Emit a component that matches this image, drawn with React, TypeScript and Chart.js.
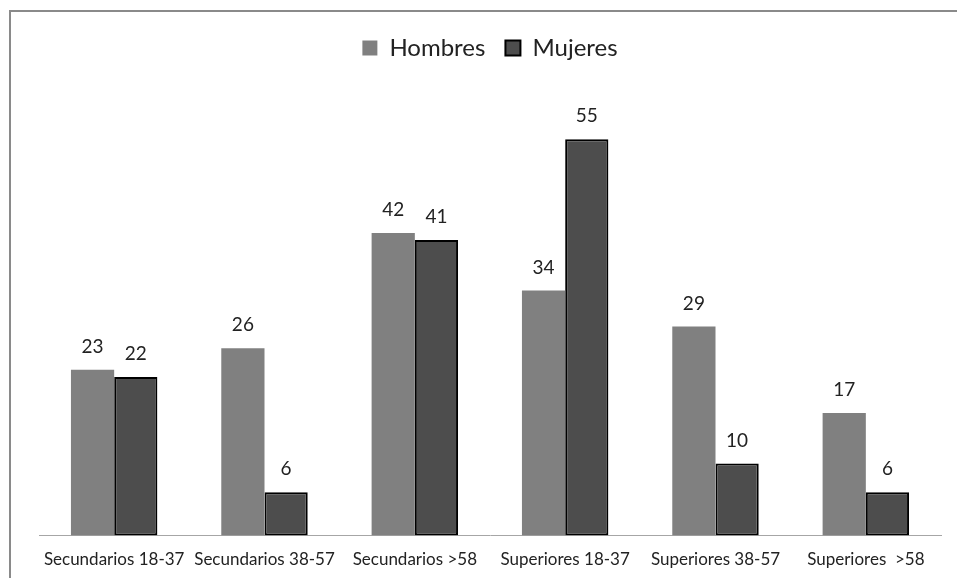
import React, { useEffect, useRef } from "react";
import { Chart, registerables } from "chart.js";

Chart.register(...registerables);

const categories = [
  "Secundarios 18-37",
  "Secundarios 38-57",
  "Secundarios >58",
  "Superiores 18-37",
  "Superiores 38-57",
  "Superiores  >58",
];
const hombres = [23, 26, 42, 34, 29, 17];
const mujeres = [22, 6, 41, 55, 10, 6];
const seriesNames = ["Hombres", "Mujeres"];

const FONT = "Lato, 'Open Sans', sans-serif";

const valueLabels = {
  id: "valueLabels",
  afterDatasetsDraw(chart: any) {
    const ctx = chart.ctx;
    ctx.save();
    ctx.font = `19px ${FONT}`;
    ctx.fillStyle = "#222";
    ctx.textAlign = "center";
    ctx.textBaseline = "alphabetic";
    chart.data.datasets.forEach((ds: any, di: number) => {
      const meta = chart.getDatasetMeta(di);
      meta.data.forEach((el: any, i: number) => {
        ctx.fillText(String(ds.data[i]), el.x, el.y - 17);
      });
    });
    ctx.restore();
  },
};

export default function App() {
  const ref = useRef<HTMLCanvasElement>(null);
  useEffect(() => {
    document.body.style.margin = "0";
    let chart: Chart | null = null;
    let cancelled = false;
    const make = () => {
      if (cancelled || !ref.current) return;
      chart = new Chart(ref.current, {
        type: "bar",
        data: {
          labels: categories,
          datasets: [
            {
              label: seriesNames[0],
              data: hombres,
              backgroundColor: "#808080",
              borderColor: "#808080",
              borderWidth: 0,
              borderSkipped: false,
            },
            {
              label: seriesNames[1],
              data: mujeres,
              backgroundColor: "#4d4d4d",
              borderColor: "#000000",
              borderWidth: 2,
              borderSkipped: false,
            },
          ],
        },
        options: {
          animation: false,
          responsive: false,
          maintainAspectRatio: false,
          layout: { padding: { top: 16, left: 39, right: 16, bottom: 2 } },
          datasets: { bar: { categoryPercentage: 0.575, barPercentage: 1 } },
          plugins: {
            legend: {
              display: true,
              position: "top",
              labels: {
                boxWidth: 15,
                boxHeight: 15,
                padding: 20,
                color: "#222",
                font: { family: FONT, size: 24 },
              },
            },
            tooltip: { enabled: false },
          },
          scales: {
            x: {
              grid: { display: false },
              border: { display: true, color: "#a6a6a6", width: 1 },
              ticks: {
                color: "#222",
                font: { family: FONT, size: 17 },
                maxRotation: 0,
                autoSkip: false,
                padding: 6,
              },
            },
            y: {
              display: false,
              min: 0,
              max: 64.6,
            },
          },
        },
        plugins: [valueLabels],
      });
    };
    if ((document as any).fonts && (document as any).fonts.load) {
      Promise.all([
        (document as any).fonts.load(`24px Lato`),
        (document as any).fonts.load(`17px Lato`),
      ]).then(make, make);
    } else make();
    return () => {
      cancelled = true;
      if (chart) chart.destroy();
    };
  }, []);
  return (
    <div style={{ position: "fixed", left: 0, top: 0, width: 957, height: 578, background: "#fff", overflow: "hidden" }}>
      <div
        style={{
          position: "absolute",
          left: 9,
          top: 10,
          width: 1000,
          height: 1000,
          borderLeft: "2px solid #8a8a8a",
          borderTop: "2px solid #8a8a8a",
        }}
      />
      <canvas ref={ref} width={957} height={578} style={{ position: "absolute", left: 0, top: 0 }} />
    </div>
  );
}
